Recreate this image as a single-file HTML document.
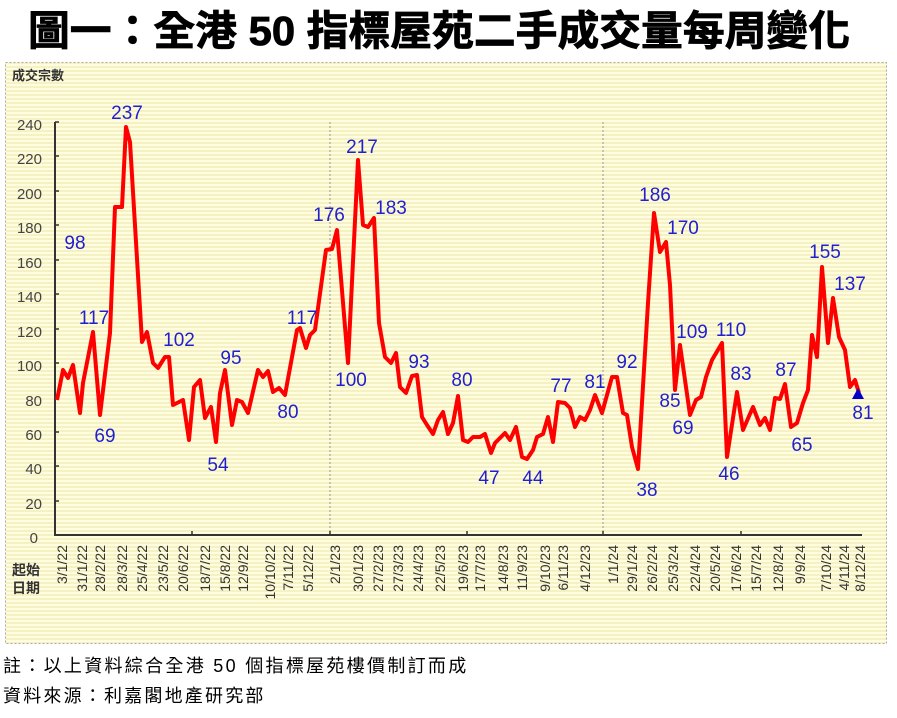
<!DOCTYPE html>
<html><head><meta charset="utf-8"><style>
body{margin:0;background:#fff;width:897px;height:713px;overflow:hidden;font-family:"Liberation Sans","Noto Sans CJK TC",sans-serif}
</style></head><body>
<svg width="897" height="713" xmlns="http://www.w3.org/2000/svg" font-family="Liberation Sans, Noto Sans CJK TC, sans-serif">
<defs>
<pattern id="st" width="4" height="4" patternUnits="userSpaceOnUse">
<rect width="4" height="4" fill="#fffde0"/><rect y="2" width="4" height="2" fill="#f6f1c2"/>
</pattern>
</defs>
<text x="28" y="45" textLength="822" lengthAdjust="spacingAndGlyphs" font-size="41" font-weight="bold" fill="#000" stroke="#000" stroke-width="0.8">圖一：全港 50 指標屋苑二手成交量每周變化</text>
<rect x="5.5" y="62.5" width="881" height="581" fill="url(#st)" stroke="#aaa" stroke-dasharray="2,2"/>
<text x="12" y="80" font-size="13" font-weight="bold" fill="#333">成交宗數</text>
<text x="12" y="575" font-size="14" font-weight="bold" fill="#333">起始</text>
<text x="12" y="593" font-size="14" font-weight="bold" fill="#333">日期</text>
<g stroke="#999" stroke-dasharray="2,2" stroke-width="1">
<line x1="330" y1="122" x2="330" y2="535"/><line x1="603" y1="122" x2="603" y2="535"/>
</g>
<g stroke="#333" stroke-width="2"><line x1="55" y1="122" x2="55" y2="536"/><line x1="55" y1="535" x2="862" y2="535"/></g>
<g stroke="#333" stroke-width="1.5">
<line x1="55" y1="122" x2="59" y2="122"/><line x1="55" y1="156" x2="59" y2="156"/><line x1="55" y1="191" x2="59" y2="191"/><line x1="55" y1="225" x2="59" y2="225"/><line x1="55" y1="260" x2="59" y2="260"/><line x1="55" y1="294" x2="59" y2="294"/><line x1="55" y1="329" x2="59" y2="329"/><line x1="55" y1="363" x2="59" y2="363"/><line x1="55" y1="398" x2="59" y2="398"/><line x1="55" y1="432" x2="59" y2="432"/><line x1="55" y1="466" x2="59" y2="466"/><line x1="55" y1="501" x2="59" y2="501"/>
<line x1="192" y1="531" x2="192" y2="535"/><line x1="330" y1="531" x2="330" y2="535"/><line x1="467" y1="531" x2="467" y2="535"/><line x1="603" y1="531" x2="603" y2="535"/><line x1="741" y1="531" x2="741" y2="535"/>
</g>
<g font-size="15" fill="#444" text-anchor="end">
<text x="42" y="130">240</text><text x="42" y="164">220</text><text x="42" y="199">200</text><text x="42" y="233">180</text><text x="42" y="268">160</text><text x="42" y="302">140</text><text x="42" y="337">120</text><text x="42" y="371">100</text><text x="42" y="406">80</text><text x="42" y="440">60</text><text x="42" y="474">40</text><text x="42" y="509">20</text><text x="38" y="543">0</text>
</g>
<g font-size="14" fill="#333" text-anchor="end">
<text transform="translate(67,545) rotate(-90)">3/1/22</text>
<text transform="translate(87,545) rotate(-90)">31/1/22</text>
<text transform="translate(105,545) rotate(-90)">28/2/22</text>
<text transform="translate(127,545) rotate(-90)">28/3/22</text>
<text transform="translate(147,545) rotate(-90)">25/4/22</text>
<text transform="translate(168,545) rotate(-90)">23/5/22</text>
<text transform="translate(188,545) rotate(-90)">20/6/22</text>
<text transform="translate(210,545) rotate(-90)">18/7/22</text>
<text transform="translate(230,545) rotate(-90)">15/8/22</text>
<text transform="translate(248,545) rotate(-90)">12/9/22</text>
<text transform="translate(275,545) rotate(-90)">10/10/22</text>
<text transform="translate(293,545) rotate(-90)">7/11/22</text>
<text transform="translate(313,545) rotate(-90)">5/12/22</text>
<text transform="translate(340,545) rotate(-90)">2/1/23</text>
<text transform="translate(363,545) rotate(-90)">30/1/23</text>
<text transform="translate(383,545) rotate(-90)">27/2/23</text>
<text transform="translate(403,545) rotate(-90)">27/3/23</text>
<text transform="translate(423,545) rotate(-90)">24/4/23</text>
<text transform="translate(445,545) rotate(-90)">22/5/23</text>
<text transform="translate(468,545) rotate(-90)">19/6/23</text>
<text transform="translate(485,545) rotate(-90)">17/7/23</text>
<text transform="translate(508,545) rotate(-90)">14/8/23</text>
<text transform="translate(527,545) rotate(-90)">11/9/23</text>
<text transform="translate(550,545) rotate(-90)">9/10/23</text>
<text transform="translate(568,545) rotate(-90)">6/11/23</text>
<text transform="translate(590,545) rotate(-90)">4/12/23</text>
<text transform="translate(618,545) rotate(-90)">1/1/24</text>
<text transform="translate(637,545) rotate(-90)">29/1/24</text>
<text transform="translate(657,545) rotate(-90)">26/2/24</text>
<text transform="translate(678,545) rotate(-90)">25/3/24</text>
<text transform="translate(700,545) rotate(-90)">22/4/24</text>
<text transform="translate(720,545) rotate(-90)">20/5/24</text>
<text transform="translate(741,545) rotate(-90)">17/6/24</text>
<text transform="translate(761,545) rotate(-90)">15/7/24</text>
<text transform="translate(783,545) rotate(-90)">12/8/24</text>
<text transform="translate(805,545) rotate(-90)">9/9/24</text>
<text transform="translate(831,545) rotate(-90)">7/10/24</text>
<text transform="translate(849,545) rotate(-90)">4/11/24</text>
<text transform="translate(865,545) rotate(-90)">8/12/24</text>
</g>
<polyline fill="none" stroke="#ff0000" stroke-width="4" stroke-linejoin="round" points="57,400 63,370 68,378 73,365 80,413 83,383 93,332 100,415 110,333 115,207 122,207 126,127 130,142 142,342 147,332 153,363 158,368 165,357 169,357 173,405 183,400 189,440 194,387 200,380 205,418 211,407 216,442 220,393 225,370 232,425 237,400 242,402 248,413 258,370 263,377 268,371 273,392 279,388 285,395 297,330 300,328 306,348 310,335 315,330 326,250 332,249 337,230 348,363 358,160 363,225 368,227 374,218 379,323 385,357 391,363 396,353 400,387 406,393 412,376 417,375 422,417 427,425 433,434 438,420 443,412 448,434 453,423 458,396 463,440 468,442 473,437 480,437 485,434 491,453 495,443 505,433 510,440 516,427 522,457 527,459 533,450 537,437 543,434 548,417 553,442 558,402 565,403 570,408 575,427 580,417 585,420 590,410 595,395 602,413 612,377 617,377 623,413 627,415 632,447 638,469 648,303 654,213 660,252 666,242 670,285 675,390 680,345 690,415 696,400 701,397 706,377 712,360 722,343 727,457 737,392 743,430 753,407 760,425 765,418 770,430 775,398 780,399 785,384 791,427 797,423 803,403 808,390 812,335 817,357 822,267 828,343 833,298 839,337 845,350 850,387 855,380 859,393"/>
<polygon points="858,388 852,399 864,399" fill="#0000cc"/>
<g font-size="19" fill="#2020d0" text-anchor="middle">
<text x="127" y="119">237</text><text x="75" y="249">98</text><text x="94" y="324">117</text><text x="105" y="442">69</text><text x="179" y="346">102</text><text x="231" y="364">95</text><text x="218" y="471">54</text><text x="302" y="324">117</text><text x="288" y="418">80</text><text x="329" y="221">176</text><text x="351" y="386">100</text><text x="362" y="153">217</text><text x="391" y="214">183</text><text x="419" y="368">93</text><text x="462" y="386">80</text><text x="489" y="484">47</text><text x="533" y="484">44</text><text x="561" y="392">77</text><text x="595" y="388">81</text><text x="627" y="368">92</text><text x="647" y="496">38</text><text x="655" y="201">186</text><text x="683" y="234">170</text><text x="670" y="407">85</text><text x="692" y="338">109</text><text x="683" y="434">69</text><text x="731" y="336">110</text><text x="729" y="480">46</text><text x="741" y="380">83</text><text x="786" y="376">87</text><text x="802" y="451">65</text><text x="825" y="258">155</text><text x="850" y="290">137</text><text x="863" y="419">81</text>
</g>
<text x="3" y="672" font-size="18" letter-spacing="2.3" fill="#000">註：以上資料綜合全港 50 個指標屋苑樓價制訂而成</text>
<text x="3" y="702" font-size="18" letter-spacing="2.2" fill="#000">資料來源：利嘉閣地產研究部</text>
</svg>
</body></html>
